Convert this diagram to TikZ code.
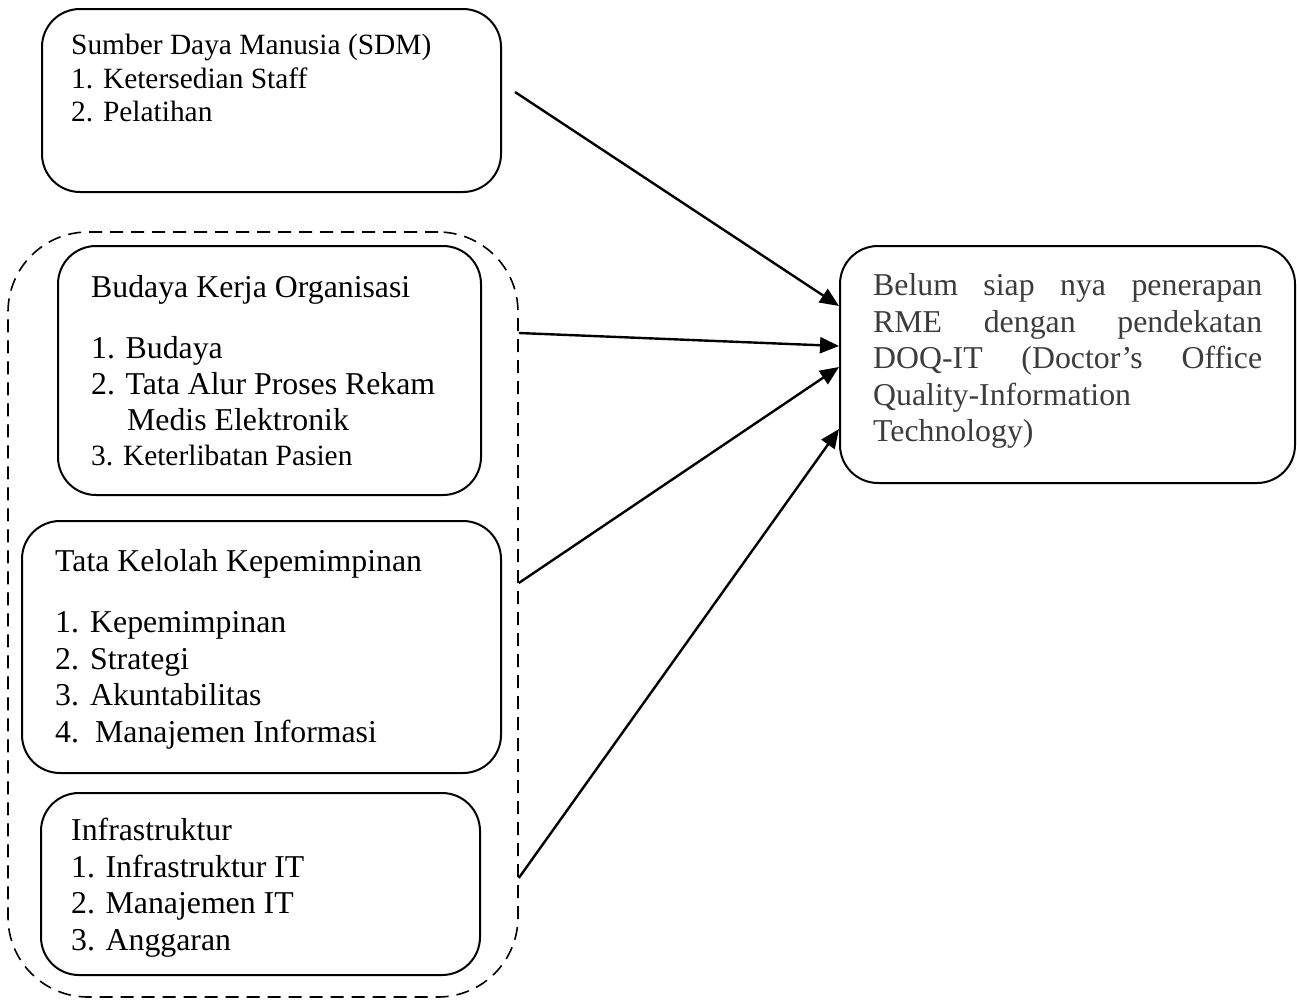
\documentclass[tikz,border=0pt]{standalone}
\usepackage{fontspec}
\setmainfont{Liberation Serif}
\usetikzlibrary{arrows.meta,calc}
\newcommand{\bigf}{\fontsize{31.8}{36}\selectfont}
\newcommand{\smallf}{\fontsize{29.4}{33.6}\selectfont}
\definecolor{txtgray}{HTML}{3C3C3C}
\begin{document}
\begin{tikzpicture}[x=1pt,y=-1pt,
  box/.style={draw, line width=2pt, rounded corners=38pt, inner sep=0pt},
  dashbox/.style={draw, line width=1.6pt, dash pattern=on 13pt off 8pt, rounded corners=80pt, inner sep=0pt},
  tb/.style={anchor=base west, inner sep=0pt, font=\bigf},
  ts/.style={anchor=base west, inner sep=0pt, font=\smallf},
  tt/.style={anchor=base west, inner sep=0pt, font=\bigf, text=txtgray},
  arr/.style={line width=2.4pt, -{Triangle[length=19pt,width=16pt]}}]
\useasboundingbox (0,0) rectangle (1297,1001);

% boxes
\node[box, minimum width=459pt, minimum height=183pt] (sdm) at (271.5,100.5) {};
\node[dashbox, minimum width=510pt, minimum height=765pt] (grp) at (263,614.5) {};
\node[box, minimum width=423pt, minimum height=249pt] (bud) at (269.5,370.5) {};
\node[box, minimum width=479pt, minimum height=252pt] (tata) at (261.5,647) {};
\node[box, minimum width=439pt, minimum height=182pt] (infra) at (260.5,884) {};
\node[box, minimum width=455pt, minimum height=237pt] (goal) at (1067.5,364.5) {};

% SDM text
\node[ts] (sdm1) at (71,54) {Sumber Daya Manusia (SDM)};
\node[ts] (sdm2) at (71,88) {1. Ketersedian Staff};
\node[ts] (sdm3) at (71,121) {2. Pelatihan};

% Budaya text
\node[tb] (bud1) at (91,297) {Budaya Kerja Organisasi};
\node[tb] (bud2) at (91,358) {1. Budaya};
\node[tb] (bud3) at (91,394) {2. Tata Alur Proses Rekam};
\node[tb] (bud4) at (127,430) {Medis Elektronik};
\node[ts] (bud5) at (91,465) {3. Keterlibatan Pasien};

% Tata Kelolah text
\node[tb] (tk0) at (55,571) {Tata Kelolah Kepemimpinan};
\node[tb] (tk1n) at (55,632) {1.};
\node[tb] (tk1) at (90,632) {Kepemimpinan};
\node[tb] (tk2n) at (55,669) {2.};
\node[tb] (tk2) at (90,669) {Strategi};
\node[tb] (tk3n) at (55,705) {3.};
\node[tb] (tk3) at (90,705) {Akuntabilitas};
\node[tb] (tk4n) at (55,742) {4.};
\node[tb] (tk4) at (95,742) {Manajemen Informasi};

% Infrastruktur text
\node[tb] (in0) at (71,840) {Infrastruktur};
\node[tb] (in1) at (71,877) {1. Infrastruktur IT};
\node[tb] (in2) at (71,913) {2. Manajemen IT};
\node[tb] (in3) at (71,950) {3. Anggaran};

% Goal text
\node[tt] (g1) at (873,295) {\hbox to 389pt{Belum\hfill siap\hfill nya\hfill penerapan}};
\node[tt] (g2) at (873,332) {\hbox to 389pt{RME\hfill dengan\hfill pendekatan}};
\node[tt] (g3) at (873,368) {\hbox to 389pt{DOQ-IT\hfill (Doctor’s\hfill Office}};
\node[tt] (g4) at (873,405) {Quality-Information};
\node[tt] (g5) at (873,441) {Technology)};

% connector ends
\coordinate (s1) at (515,92);
\coordinate (s2) at (grp.east |- 0,333);
\coordinate (s3) at (grp.east |- 0,583);
\coordinate (s4) at (grp.east |- 0,878);
\coordinate (e1) at (goal.west |- 0,306);
\coordinate (e2) at (goal.west |- 0,346);
\coordinate (e3) at (goal.west |- 0,367);
\coordinate (e4) at (goal.west |- 0,429);

\draw[arr] (s1) -- (e1);
\draw[arr] (s2) -- (e2);
\draw[arr] (s3) -- (e3);
\draw[arr] (s4) -- (e4);
\end{tikzpicture}
\end{document}
